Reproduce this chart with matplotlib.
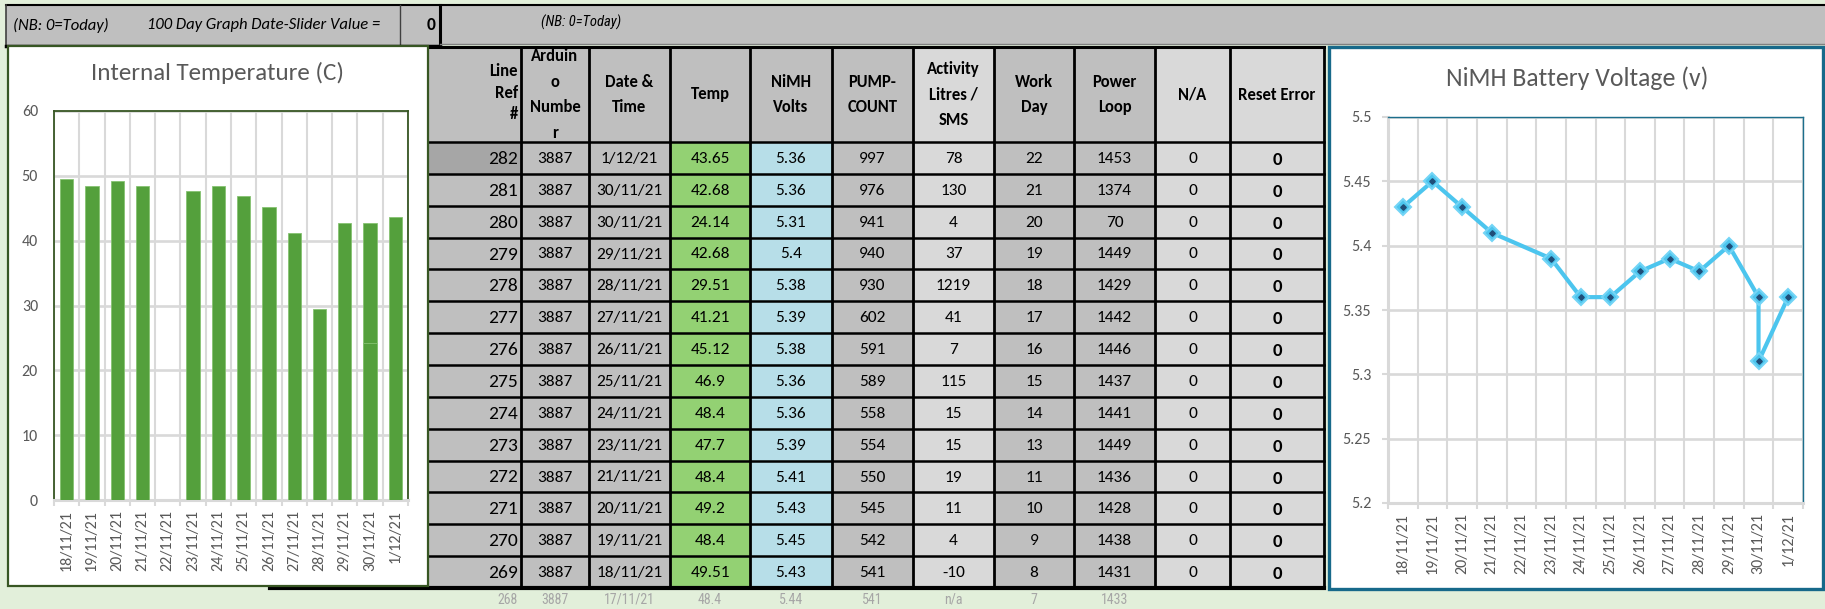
import numpy as np
import matplotlib.pyplot as plt
from matplotlib.patches import Rectangle
from matplotlib import font_manager

W, H = 1825, 609

# ---- data (table rows, newest first) ----
line_ref = [282, 281, 280, 279, 278, 277, 276, 275, 274, 273, 272, 271, 270, 269]
arduino_no = [3887] * 14
dates = ['1/12/21', '30/11/21', '30/11/21', '29/11/21', '28/11/21', '27/11/21', '26/11/21',
         '25/11/21', '24/11/21', '23/11/21', '21/11/21', '20/11/21', '19/11/21', '18/11/21']
temps = [43.65, 42.68, 24.14, 42.68, 29.51, 41.21, 45.12, 46.9, 48.4, 47.7, 48.4, 49.2, 48.4, 49.51]
volts = [5.36, 5.36, 5.31, 5.4, 5.38, 5.39, 5.38, 5.36, 5.36, 5.39, 5.41, 5.43, 5.45, 5.43]
pump_count = [997, 976, 941, 940, 930, 602, 591, 589, 558, 554, 550, 545, 542, 541]
activity = [78, 130, 4, 37, 1219, 41, 7, 115, 15, 15, 19, 11, 4, -10]
work_day = [22, 21, 20, 19, 18, 17, 16, 15, 14, 13, 11, 10, 9, 8]
power_loop = [1453, 1374, 70, 1449, 1429, 1442, 1446, 1437, 1441, 1449, 1436, 1428, 1438, 1431]
na_col = [0] * 14
reset_error = [0] * 14

footer_row = ['268', '3887', '17/11/21', '48.4', '5.44', '541', 'n/a', '7', '1433']

headers = ['Line\nRef\n#', 'Arduin\no\nNumbe\nr', 'Date &\nTime', 'Temp', 'NiMH\nVolts',
           'PUMP-\nCOUNT', 'Activity\nLitres /\nSMS', 'Work\nDay', 'Power\nLoop', 'N/A', 'Reset Error']

chart_dates = ['18/11/21', '19/11/21', '20/11/21', '21/11/21', '22/11/21', '23/11/21', '24/11/21',
               '25/11/21', '26/11/21', '27/11/21', '28/11/21', '29/11/21', '30/11/21', '1/12/21']

# ---- fonts ----
available = {f.name for f in font_manager.fontManager.ttflist}


def pick(*names):
    return next((n for n in names if n in available), 'DejaVu Sans')


BODY = pick('Carlito', 'Lato', 'Open Sans')
NARROW = pick('Liberation Sans Narrow', 'Roboto Condensed', BODY)
plt.rcParams['font.family'] = BODY

GREY_TXT = '#595959'
BG_GREEN = '#e2efda'

fig = plt.figure(figsize=(W / 100, H / 100), dpi=100)
fig.patch.set_facecolor(BG_GREEN)
bg = fig.add_axes([0, 0, 1, 1])
bg.set_xlim(0, W)
bg.set_ylim(H, 0)
bg.axis('off')


def px_rect(x0, y0, x1, y1):
    return [x0 / W, 1 - y1 / H, (x1 - x0) / W, (y1 - y0) / H]


# ---- top bar ----
bg.add_patch(Rectangle((6, 5), W - 6, 40, fc='#bfbfbf', ec='none', zorder=1))
bg.plot([6, W], [5, 5], color='black', lw=1.5, zorder=2)
bg.plot([6, 6], [5, 46], color='#404040', lw=1.2, zorder=2)
bg.plot([400, 400], [5, 46], color='#404040', lw=1.0, zorder=2)
bg.plot([440, 440], [5, 46], color='black', lw=2.2, zorder=2)
bg.plot([6, 440], [45.5, 45.5], color='black', lw=2.5, zorder=2)
bg.plot([440, W], [43.5, 43.5], color='#808080', lw=1.0, zorder=2)
bg.text(13, 25, '(NB: 0=Today)', fontsize=12, style='italic', va='center', ha='left', zorder=3)
bg.text(147, 25, '100 Day Graph Date-Slider Value =', fontsize=12, style='italic',
        va='center', ha='left', zorder=3)
bg.text(436, 25, '0', fontsize=12.5, weight='bold', va='center', ha='right', zorder=3)
bg.text(541, 22, '(NB: 0=Today)', fontsize=10.5, style='italic', family=NARROW,
        va='center', ha='left', zorder=3)

# ---- table ----
col_x = [428, 521, 589, 670, 750, 832, 913, 994, 1074, 1155, 1230, 1324]
head_top, head_bot, tab_bot = 47, 142, 588
n_rows = len(line_ref)
row_h = (tab_bot - head_bot) / n_rows

head_fill = ['#bfbfbf'] * 6 + ['#d9d9d9', '#bfbfbf', '#bfbfbf', '#d9d9d9', '#d9d9d9']
cell_fill = ['#bfbfbf', '#bfbfbf', '#bfbfbf', '#93d173', '#b7dee8', '#bfbfbf',
             '#d9d9d9', '#bfbfbf', '#bfbfbf', '#d9d9d9', '#d9d9d9']
columns = [line_ref, arduino_no, dates, temps, volts, pump_count, activity,
           work_day, power_loop, na_col, reset_error]

bg.add_patch(Rectangle((270, head_top), col_x[0] - 270, tab_bot - head_top,
                       fc='#bfbfbf', ec='none', zorder=1))
for c in range(11):
    x0, x1 = col_x[c], col_x[c + 1]
    bg.add_patch(Rectangle((x0, head_top), x1 - x0, head_bot - head_top,
                           fc=head_fill[c], ec='none', zorder=1))
    if c == 0:
        bg.text(x1 - 3, (head_top + head_bot) / 2 - 2, headers[c], fontsize=12, weight='bold',
                ha='right', va='center', multialignment='right', linespacing=1.4, zorder=3)
    else:
        bg.text((x0 + x1) / 2, (head_top + head_bot) / 2, headers[c], fontsize=12,
                weight='bold', ha='center', va='center', linespacing=1.75, zorder=3)
    for r in range(n_rows):
        y0 = head_bot + r * row_h
        fill = '#a6a6a6' if (c == 0 and r == 0) else cell_fill[c]
        bg.add_patch(Rectangle((x0, y0), x1 - x0, row_h, fc=fill, ec='none', zorder=1))
        val = str(columns[c][r])
        yc = y0 + row_h / 2 + 1
        if c == 0:
            bg.text(x1 - 3, yc, val, fontsize=14, ha='right', va='center', zorder=3)
        elif c == 10:
            bg.text((x0 + x1) / 2, yc + 1, val, fontsize=13.5, weight='bold',
                    ha='center', va='center', zorder=3)
        else:
            bg.text((x0 + x1) / 2, yc, val, fontsize=12.5, ha='center', va='center', zorder=3)

# grid lines
for x in col_x[1:]:
    bg.plot([x, x], [head_top, tab_bot], color='black', lw=2.0, zorder=2)
for k in range(n_rows + 1):
    y = head_bot + k * row_h
    bg.plot([col_x[0], col_x[-1]], [y, y], color='black', lw=1.8, zorder=2)
bg.plot([col_x[0], col_x[-1]], [head_top, head_top], color='black', lw=2.2, zorder=2)
bg.plot([270, col_x[-1]], [tab_bot, tab_bot], color='black', lw=3.0, zorder=2)

# faint row under the table
for c, txt in enumerate(footer_row):
    x0, x1 = col_x[c], col_x[c + 1]
    if c == 0:
        bg.text(x1 - 3, 600, txt, fontsize=10, color='#a6a6a6', ha='right', va='center',
                family=NARROW, zorder=3)
    else:
        bg.text((x0 + x1) / 2, 600, txt, fontsize=10, color='#a6a6a6', ha='center',
                va='center', family=NARROW, zorder=3)

# ---- chart boxes ----
bg.add_patch(Rectangle((8, 46), 420, 540, fc='white', ec='#375623', lw=1.6, zorder=5))
bg.add_patch(Rectangle((1329, 47), 494, 542, fc='white', ec='#17698a', lw=2.4, zorder=5))
bg.text(218, 73, 'Internal Temperature (C)', fontsize=18, color=GREY_TXT,
        ha='center', va='center', zorder=6)
bg.text(1577, 78, 'NiMH Battery Voltage (v)', fontsize=18.5, color=GREY_TXT,
        ha='center', va='center', zorder=6)

x_idx = [chart_dates.index(d) for d in dates]
cat = np.arange(len(chart_dates))


def style_cat_axis(ax):
    ax.set_xlim(-0.5, len(chart_dates) - 0.5)
    ax.set_xticks(cat)
    ax.set_xticklabels(chart_dates, rotation=90, fontsize=11.5, color=GREY_TXT)
    ax.set_xticks(np.arange(-0.5, len(chart_dates)), minor=True)
    ax.tick_params(axis='x', which='major', length=0, pad=7)
    ax.tick_params(axis='x', which='minor', length=4, color='#d9d9d9', width=1.5)
    ax.grid(which='minor', axis='x', color='#d9d9d9', lw=1.5, zorder=0)
    ax.grid(which='major', axis='y', color='#d9d9d9', lw=1.9, zorder=0)
    ax.set_axisbelow(True)


# left: temperature bars
axL = fig.add_axes(px_rect(54, 111, 408, 500))
axL.set_facecolor('white')
axL.bar(x_idx, temps, width=0.53, color='#54a03c', edgecolor='#86c271', linewidth=0.6, zorder=3)
axL.set_ylim(0, 60)
axL.set_yticks(np.arange(0, 61, 10))
axL.tick_params(axis='y', length=0, pad=11.5, labelsize=11.5, labelcolor=GREY_TXT)
style_cat_axis(axL)
for s in ['top', 'left', 'right']:
    axL.spines[s].set_color('#375623')
    axL.spines[s].set_linewidth(1.3)
axL.spines['bottom'].set_color('#d9d9d9')
axL.spines['bottom'].set_linewidth(2.2)

# right: NiMH voltage line
order = sorted(range(n_rows), key=lambda i: x_idx[i])
lx = [x_idx[i] for i in order]
ly = [volts[i] for i in order]
axR = fig.add_axes(px_rect(1388, 117, 1803, 503))
axR.set_facecolor('white')
axR.plot(lx, ly, color='#4cc5ee', lw=3.0, marker='D', markersize=8,
         markerfacecolor='#4cc5ee', markeredgecolor='#74d5f6', markeredgewidth=1.5, zorder=3)
axR.plot(lx, ly, ls='none', marker='D', markersize=2.8, color='#1f4e79', zorder=4)
axR.set_ylim(5.2, 5.5)
axR.set_yticks(np.round(np.arange(5.2, 5.501, 0.05), 2))
axR.set_yticklabels(['5.2', '5.25', '5.3', '5.35', '5.4', '5.45', '5.5'])
axR.tick_params(axis='y', length=4, color='#d9d9d9', width=1.5, pad=8,
                labelsize=11.5, labelcolor=GREY_TXT)
style_cat_axis(axR)
for s in ['top', 'right']:
    axR.spines[s].set_color('#1c6e8c')
    axR.spines[s].set_linewidth(1.0)
for s in ['left', 'bottom']:
    axR.spines[s].set_color('#d9d9d9')
    axR.spines[s].set_linewidth(2.2)

fig.savefig('out.png', dpi=100, facecolor=fig.get_facecolor())
